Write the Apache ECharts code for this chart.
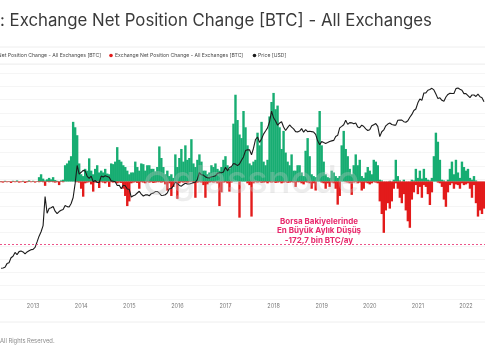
<!DOCTYPE html>
<html><head><meta charset="utf-8">
<script src="https://cdn.jsdelivr.net/npm/echarts@6/dist/echarts.min.js"></script>
<style>html,body{margin:0;padding:0;background:#fff}#c{width:485px;height:360px}</style>
</head><body><div id="c"></div>
<script>
// Half-month sampling (1st and 16th of each month), May 2012 – May 2022
const halfMonthDays = ['01', '16'];
const firstYear = 2012, firstMonth = 5, lastYear = 2022, lastMonth = 5;
const dates = [];
for (let y = firstYear; y <= lastYear; y++) {
  for (let m = 1; m <= 12; m++) {
    if ((y === firstYear && m < firstMonth) || (y === lastYear && m > lastMonth)) continue;
    for (const d of halfMonthDays) dates.push(y + '-' + String(m).padStart(2, '0') + '-' + d);
  }
}
const yearTicks = ['2013','2014','2015','2016','2017','2018','2019','2020','2021','2022'];

// Exchange net position change, thousands of BTC: highest inflow (green) in each half-month
const inflowKBTC = [
  1,0,2,0,1,0,2,0,3,0,0,2,0,1,3,0,2,0,1,
  12,20,8,3,6,10,6,12,4,2,1,3,5,
  45,50,58,70,165,150,128,
  50,20,15,
  35,30,64,30,
  20,35,45,25,
  30,25,35,22,20,
  50,48,55,95,60,55,45,
  40,30,20,25,
  25,55,40,30,
  50,48,30,45,45,35,35,28,40,
  97,65,40,20,30,15,
  20,10,75,40,
  65,90,55,
  100,60,65,117,50,40,60,
  75,55,30,30,20,25,
  45,40,50,35,30,40,
  60,70,45,35,40,
  160,240,170,130,120,195,150,100,50,45,55,
  60,135,100,165,55,45,60,180,220,245,200,210,150,90,140,80,55,45,75,
  30,30,45,45,25,15,
  85,120,70,20,15,12,
  150,195,100,55,20,
  12,10,30,25,15,10,15,
  100,140,90,70,35,20,
  45,75,45,60,15,10,
  25,40,30,20,60,55,45,
  5,3,0,0,0,2,0,5,
  60,15,
  3,0,5,0,0,0,5,3,
  35,10,30,8,35,10,
  5,3,10,
  70,135,110,60,
  5,3,0,5,
  35,55,20,60,25,10,
  55,40,30,35,
  10,5,15,
  3,0,0,
  0,0
];
// Deepest outflow (red) in each half-month, thousands of BTC
const outflowKBTC = [
  -2,-3,-1,-2,-1,-4,-1,-2,-1,-3,-2,-1,-4,-2,-1,-2,-1,-3,-1,
  -2,-1,-2,-12,-1,-2,-1,-2,-3,-2,-10,-1,-2,
  0,0,0,0,0,0,-2,
  -3,-20,-42,
  -5,-3,-2,-8,
  -28,-3,-2,-18,
  -2,-3,-5,-2,-15,
  -2,-3,-2,-5,-3,-4,-20,
  -40,-68,-55,-5,
  -3,-2,-4,-20,
  -2,-3,-5,-2,-3,-2,-4,-3,-2,
  -2,-3,-2,-8,-25,-5,
  -40,-15,-3,-48,
  -5,-2,-3,
  -2,-3,-2,-1,-5,-45,-3,
  -2,-3,-10,-45,-8,-3,
  -2,-3,-2,-5,-68,-30,
  -3,-2,-5,-28,-3,
  0,0,0,-100,0,0,0,-5,-10,-97,-5,
  -2,-3,-2,-4,-3,-2,-5,-2,-3,-2,-4,-3,-2,-5,-3,-2,-4,-3,-2,
  -3,-15,-2,-2,-5,-8,
  -2,-3,-5,-20,-5,-25,
  0,0,-3,-5,-20,
  -5,-15,-3,-5,-20,-64,-40,
  0,0,-2,-3,-5,-37,
  -3,-2,-5,-3,-25,-20,
  -3,-5,-8,-5,-2,-3,-5,
  -55,-90,-142,-80,-60,-75,-55,-20,
  -5,-20,
  -45,-60,-35,-80,-110,-128,-50,-30,
  -10,-35,-15,-45,-10,-15,
  -35,-65,-30,
  0,0,-3,-5,
  -15,-50,-70,-30,
  -10,-5,-20,-8,-10,-20,
  -5,-10,-8,-5,
  -20,-45,-10,
  -60,-97,-80,
  -90,-75
];

// BTC price, USD
const price2012 = [5.0,5.1,5.3,6.4,6.7,8.7,9.4,11.5,10.2,12.0,12.4,11.8,10.7,11.8,12.6,13.3];
const price2013 = [13.5,15,20,27,34,47,215,90,115,120,128,100,88,98,105,110,135,127,125,150,205,430,1100,700];
const price2014 = [770,850,830,620,560,630,470,500,450,450,630,600,640,620,590,490,480,470,385,390,325,390,380,320];
const price2015 = [315,210,225,235,260,285,245,222,235,237,225,250,258,280,282,258,228,230,237,262,325,330,378,455];
const price2016 = [430,385,372,405,433,415,417,430,450,455,535,760,675,665,605,580,575,608,615,640,730,745,750,785];
const price2017 = [1000,830,985,1040,1220,1180,1090,1190,1450,1720,2400,2500,2500,1930,2720,4300,4900,3700,4400,5700,6700,7900,10900,19100];
const price2018 = [13400,11300,9100,10200,10900,8300,6900,8000,9200,8200,7500,6500,6400,6700,7600,6300,7200,6500,6600,6500,6350,5600,4000,3250];
const price2019 = [3850,3650,3480,3650,3850,4000,4100,5050,5350,7900,8550,9300,11800,9500,10400,10300,9800,10250,8300,8000,9150,8500,7500,6900];
const price2020 = [7200,8800,9350,9900,8550,5000,6450,7100,8800,9650,10200,9450,9150,9150,11800,11900,11900,10950,10600,11500,13800,16000,19700,21300];
const price2021 = [29400,36000,33500,49200,49600,56800,59000,63000,57800,46500,36700,38300,33500,31800,39900,45700,48800,47800,48100,62000,64000,60000,57000,47600];
const price2022 = [47700,43000,38700,44500,44400,41100,46300,40400,38500,31300];
const priceUSD = [].concat(price2012,price2013,price2014,price2015,price2016,price2017,price2018,price2019,price2020,price2021,price2022);

const maxDropKBTC = -172.7;
const GREEN = '#17ad72', RED = '#e31b1b', PINK = '#e8286c';
const FONT = 'Inter, "Noto Sans", sans-serif';

const chart = echarts.init(document.getElementById('c'), null, {renderer: 'canvas'});
chart.setOption({
  animation: false,
  backgroundColor: '#fff',
  grid: {left: -1.7, width: 488.6, top: 64, bottom: 61},
  xAxis: {
    type: 'category', data: dates, boundaryGap: true,
    axisLine: {show: true, lineStyle: {color: '#e4e4e4', width: 1}},
    axisTick: {show: false},
    axisLabel: {
      interval: (idx, v) => v.endsWith('-01-01') && yearTicks.includes(v.slice(0, 4)),
      formatter: v => v.slice(0, 4),
      color: '#7a7a7a', fontSize: 5.5, fontFamily: FONT, margin: 4
    },
    splitLine: {show: false}
  },
  yAxis: [
    {type: 'value', min: -325, max: 325, show: false, splitLine: {show: false}},
    {type: 'log', logBase: 10, min: 1, max: 225400, show: false, splitLine: {show: false}},
    {type: 'value', min: 0, max: 17.67, interval: 1, axisLabel: {show: false}, axisLine: {show: false}, axisTick: {show: false},
     splitLine: {show: true, lineStyle: {color: '#f2f2f2', width: 0.8}}}
  ],
  series: [
    {
      type: 'bar', yAxisIndex: 0, data: inflowKBTC, barWidth: 2.4, barGap: '-100%',
      itemStyle: {color: GREEN}, z: 2
    },
    {
      type: 'bar', yAxisIndex: 0, data: outflowKBTC, barWidth: 2.4, barGap: '-100%',
      itemStyle: {color: RED}, z: 2,
      markLine: {
        silent: true, symbol: 'none', label: {show: false},
        lineStyle: {color: PINK, type: [2, 2], width: 0.8},
        data: [{yAxis: maxDropKBTC}]
      }
    },
    {
      type: 'line', yAxisIndex: 1, data: priceUSD, showSymbol: false, smooth: false,
      lineStyle: {color: '#1c1c1c', width: 1.1}, z: 3
    }
  ],
  graphic: [
    {type: 'text', left: 0, top: 12, style: {text: ': Exchange Net Position Change [BTC] - All Exchanges', fill: '#3a3a3a', font: '16.8px ' + FONT}},
    {type: 'line', shape: {x1: 0, y1: 47, x2: 485, y2: 47}, style: {stroke: '#eeeeee', lineWidth: 1}},
    {type: 'line', shape: {x1: 0, y1: 64, x2: 485, y2: 64}, style: {stroke: '#eeeeee', lineWidth: 1}},
    {type: 'text', x: 101, y: 55.5, style: {text: 'Exchange Net Position Change - All Exchanges [BTC]', fill: '#4a4a4a', font: '5.1px ' + FONT, align: 'right', verticalAlign: 'middle'}},
    {type: 'circle', shape: {cx: 111, cy: 55.5, r: 1.8}, style: {fill: RED}},
    {type: 'text', x: 115, y: 55.5, style: {text: 'Exchange Net Position Change - All Exchanges [BTC]', fill: '#4a4a4a', font: '5.1px ' + FONT, align: 'left', verticalAlign: 'middle'}},
    {type: 'circle', shape: {cx: 254.5, cy: 55.5, r: 1.8}, style: {fill: '#1c1c1c'}},
    {type: 'text', x: 258, y: 55.5, style: {text: 'Price [USD]', fill: '#4a4a4a', font: '5.1px ' + FONT, align: 'left', verticalAlign: 'middle'}},
    {type: 'circle', z: 100, shape: {cx: 157, cy: 183, r: 10}, style: {fill: 'none', stroke: 'rgba(190,190,190,0.35)', lineWidth: 4}},
    {type: 'text', z: 100, x: 172, y: 182, style: {text: 'glassnode', fill: 'rgba(200,200,200,0.32)', font: '500 38px ' + FONT, verticalAlign: 'middle'}},
    {type: 'text', z: 101, x: 319, y: 231, style: {text: 'Borsa Bakiyelerinde\nEn Büyük Aylık Düşüş\n-172,7 bin BTC/ay', fill: PINK, font: 'bold 8px ' + FONT, align: 'center', verticalAlign: 'middle', lineHeight: 9.3}},
    {type: 'line', shape: {x1: 0, y1: 322, x2: 485, y2: 322}, style: {stroke: '#eeeeee', lineWidth: 1}},
    {type: 'text', x: 0, y: 341, style: {text: 'All Rights Reserved.', fill: '#8a8a8a', font: '5.8px ' + FONT, verticalAlign: 'middle'}}
  ]
});
</script></body></html>
